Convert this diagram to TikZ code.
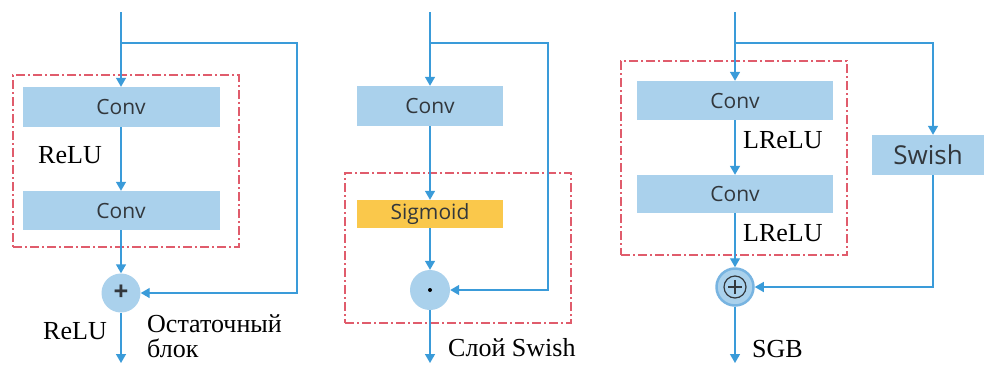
\documentclass[tikz,border=0pt]{standalone}
\usepackage{fontspec}
\setmainfont{Liberation Serif}
\newfontfamily\uifont{Open Sans}
\usetikzlibrary{arrows.meta}

\definecolor{flowblue}{RGB}{58,155,217}
\definecolor{boxblue}{RGB}{170,209,236}
\definecolor{glowblue}{RGB}{120,180,225}
\definecolor{sigyellow}{RGB}{250,200,75}
\definecolor{groupred}{RGB}{224,92,108}
\definecolor{boxtext}{RGB}{50,55,60}

\tikzstyle{box} = [rectangle, fill=boxblue, text=boxtext, font=\uifont\fontsize{21}{21}\selectfont, minimum height=40pt, inner sep=0pt]
\tikzstyle{op} = [circle, fill=boxblue, minimum size=39pt, inner sep=0pt, text=boxtext]
\tikzstyle{group} = [draw=groupred, line width=1.5pt, dash pattern=on 9pt off 3pt on 2pt off 3pt, minimum width=1pt, inner sep=0pt]
\tikzstyle{flow} = [draw=flowblue, line width=1.4pt]
\tikzstyle{arrow} = [flow, -{Triangle[width=10pt,length=9pt]}]
\tikzstyle{lbl} = [font=\fontsize{26}{25}\selectfont, inner sep=0pt]

\begin{document}
\begin{tikzpicture}[x=1pt, y=-1pt]
  \fill[white] (0,0) rectangle (987,365);
  \useasboundingbox (0,0) rectangle (987,365);

  % residual block
  \node (res1) [group, minimum width=226pt, minimum height=172pt] at (126,161) {};
  \node (conv1a) [box, minimum width=197pt] at (121,107) {Conv};
  \node (conv1b) [box, minimum width=197pt, minimum height=39pt] at (121,210.5) {Conv};
  \node (sum1) [op, font=\uifont\bfseries\fontsize{26}{26}\selectfont] at (121,293) {+};
  \coordinate (in1) at (121,12);
  \coordinate (split1) at (121,43);
  \coordinate (skip1) at (297,293);
  \coordinate (out1) at (121,363);
  \node (relu1) [lbl] at (70,155) {ReLU};
  \node (relu2) [lbl] at (75,331) {ReLU};
  \node (resname) [lbl, anchor=west, align=left] at (147,336) {Остаточный\\блок};

  \draw [flow] (in1) -- (split1);
  \draw [arrow] (split1) -- (conv1a);
  \draw [arrow] (conv1a) -- (conv1b);
  \draw [arrow] (conv1b) -- (sum1);
  \draw [arrow] (split1) -| (skip1) -- (sum1);
  \draw [arrow] (sum1) -- (out1);

  % swish layer
  \node (swishgrp) [group, minimum width=226pt, minimum height=150pt] at (458,248) {};
  \node (conv2) [box, minimum width=146pt] at (430,106) {Conv};
  \node (sigm) [box, fill=sigyellow, minimum width=146pt, minimum height=28pt] at (430,214) {Sigmoid};
  \node (mult) [op, minimum size=40pt] at (430,290) {};
  \fill [black] (mult) circle (2pt);
  \coordinate (in2) at (430,12);
  \coordinate (split2) at (430,43);
  \coordinate (skip2) at (548,290);
  \coordinate (out2) at (430,363);
  \node (swishname) [lbl, anchor=west] at (448,348) {Слой Swish};

  \draw [flow] (in2) -- (split2);
  \draw [arrow] (split2) -- (conv2);
  \draw [arrow] (conv2) -- (sigm);
  \draw [arrow] (sigm) -- (mult);
  \draw [arrow] (split2) -| (skip2) -- (mult);
  \draw [arrow] (mult) -- (out2);

  % SGB
  \node (gated) [group, minimum width=226pt, minimum height=194pt] at (734,158) {};
  \node (conv3a) [box, minimum width=196pt, minimum height=39pt] at (735,100.5) {Conv};
  \node (conv3b) [box, minimum width=196pt, minimum height=38pt] at (735,194) {Conv};
  \node (swish) [box, minimum width=112pt, font=\uifont\fontsize{26}{26}\selectfont] at (928,155) {Swish};
  \node (sum3) [op, minimum size=37pt, draw=glowblue, line width=2.5pt] at (735,287) {};
  \draw [boxtext, line width=1.2pt] (sum3) circle (11pt);
  \draw [boxtext, line width=1.4pt] (sum3.center) ++(-7,0) -- ++(14,0);
  \draw [boxtext, line width=1.4pt] (sum3.center) ++(0,-7) -- ++(0,14);
  \coordinate (in3) at (735,12);
  \coordinate (split3) at (735,43);
  \coordinate (skip3) at (933,287);
  \coordinate (out3) at (735,363);
  \node (lrelu1) [lbl, anchor=west] at (743,140) {LReLU};
  \node (lrelu2) [lbl, anchor=west] at (743,233) {LReLU};
  \node (sgbname) [lbl, anchor=west] at (752,349) {SGB};

  \draw [flow] (in3) -- (split3);
  \draw [arrow] (split3) -- (conv3a);
  \draw [arrow] (conv3a) -- (conv3b);
  \draw [arrow] (conv3b) -- (sum3);
  \draw [arrow] (split3) -| (skip3 |- swish.north);
  \draw [arrow] (skip3 |- swish.south) -- (skip3) -- (sum3);
  \draw [arrow] (sum3) -- (out3);
\end{tikzpicture}
\end{document}
